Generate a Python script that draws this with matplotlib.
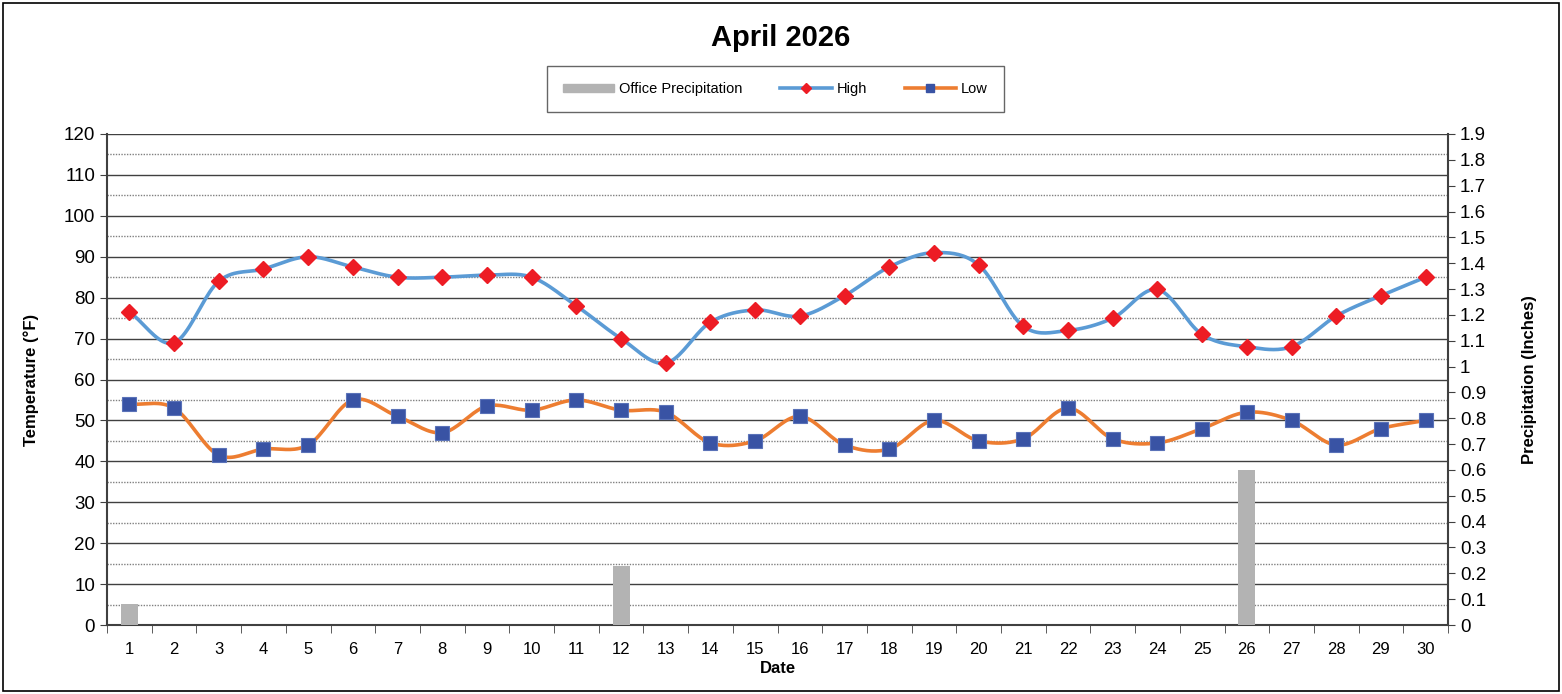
import numpy as np
import matplotlib
matplotlib.use("Agg")
import matplotlib.pyplot as plt
from matplotlib.patches import Rectangle
from matplotlib.lines import Line2D
from matplotlib.ticker import MultipleLocator, FuncFormatter

plt.rcParams["font.family"] = ["Liberation Sans", "DejaVu Sans"]

days = list(range(1, 31))
high = [76.5, 69, 84, 87, 90, 87.5, 85, 85, 85.5, 85,
        78, 70, 64, 74, 77, 75.5, 80.5, 87.5, 91, 88,
        73, 72, 75, 82, 71, 68, 68, 75.5, 80.5, 85]
low = [54, 53, 41.5, 43, 44, 55, 51, 47, 53.5, 52.5,
       55, 52.5, 52, 44.5, 45, 51, 44, 43, 50, 45,
       45.5, 53, 45.5, 44.5, 48, 52, 50, 44, 48, 50]
precip = [0.08, 0, 0, 0, 0, 0, 0, 0, 0, 0,
          0, 0.23, 0, 0, 0, 0, 0, 0, 0, 0,
          0, 0, 0, 0, 0, 0.60, 0, 0, 0, 0]

HIGH_LINE = "#5B9BD5"
HIGH_MARK = "#ED1C24"
LOW_LINE = "#ED7D31"
LOW_MARK = "#3953A4"
BAR = "#B3B3B3"


def smooth(xs, ys, n=20):
    # Catmull-Rom curve through the points, like Excel's smoothed line
    xs = np.asarray(xs, float)
    ys = np.asarray(ys, float)
    px = np.concatenate([[2 * xs[0] - xs[1]], xs, [2 * xs[-1] - xs[-2]]])
    py = np.concatenate([[2 * ys[0] - ys[1]], ys, [2 * ys[-1] - ys[-2]]])
    out_x, out_y = [], []
    t = np.linspace(0, 1, n, endpoint=False)
    for i in range(1, len(px) - 2):
        for p, out in ((px, out_x), (py, out_y)):
            p0, p1, p2, p3 = p[i - 1], p[i], p[i + 1], p[i + 2]
            out.extend(0.5 * ((2 * p1) + (-p0 + p2) * t
                              + (2 * p0 - 5 * p1 + 4 * p2 - p3) * t ** 2
                              + (-p0 + 3 * p1 - 3 * p2 + p3) * t ** 3))
    out_x.append(xs[-1])
    out_y.append(ys[-1])
    return np.array(out_x), np.array(out_y)


fig = plt.figure(figsize=(15.62, 6.94), dpi=100)
fig.patches.append(Rectangle((0.002, 0.004), 0.996, 0.992, transform=fig.transFigure,
                             fill=False, edgecolor="black", linewidth=1.2))

ax = fig.add_axes([107 / 1562, 1 - 625 / 694, (1448 - 107) / 1562, (625 - 134) / 694])
ax2 = ax.twinx()

# temperature axis
ax.set_xlim(0.5, 30.5)
ax.set_ylim(0, 120)
ax.yaxis.set_major_locator(MultipleLocator(10))
ax.yaxis.set_minor_locator(MultipleLocator(5))
ax.grid(True, which="major", axis="y", color="#404040", linewidth=1.0)
ax.grid(True, which="minor", axis="y", color="#808080", linewidth=1.0, linestyle=(0, (1, 1)))
ax.tick_params(axis="y", which="minor", length=0)
ax.tick_params(axis="y", which="major", labelsize=13.5, length=5, color="#404040")
ax.set_xticks(days)
ax.set_xticks(np.arange(0.5, 31, 1), minor=True)
ax.tick_params(axis="x", which="major", length=0, labelsize=12, pad=12)
ax.tick_params(axis="x", which="minor", length=6, color="#404040")
for side in ("top", "right"):
    ax.spines[side].set_visible(False)
for side in ("left", "bottom"):
    ax.spines[side].set_color("#404040")
    ax.spines[side].set_linewidth(1.5)
ax.set_ylabel("Temperature (°F)", fontsize=12, fontweight="bold", labelpad=18)
ax.set_xlabel("Date", fontsize=12, fontweight="bold", labelpad=3)

# precipitation axis
ax2.set_ylim(0, 1.9)
ax2.yaxis.set_major_locator(MultipleLocator(0.1))
ax2.yaxis.set_major_formatter(FuncFormatter(lambda v, p: f"{v:.1f}".rstrip("0").rstrip(".")))
ax2.tick_params(axis="y", labelsize=13.5, length=5, color="#404040")
for side in ("top", "left", "bottom"):
    ax2.spines[side].set_visible(False)
ax2.spines["right"].set_color("#404040")
ax2.spines["right"].set_linewidth(1.5)
ax2.set_ylabel("Precipitation (Inches)", fontsize=12, fontweight="bold", labelpad=26)
ax2.bar(days, precip, width=0.38, color=BAR, zorder=1)

# lines drawn on the top axes, scaled into precipitation units
scale = 1.9 / 120
hx, hy = smooth(days, high)
lx, ly = smooth(days, low)
ax2.plot(hx, hy * scale, color=HIGH_LINE, linewidth=2.6, zorder=3)
ax2.plot(days, np.array(high) * scale, linestyle="none", marker="D", markersize=8,
         color=HIGH_MARK, zorder=4)
ax2.plot(lx, ly * scale, color=LOW_LINE, linewidth=2.6, zorder=3)
ax2.plot(days, np.array(low) * scale, linestyle="none", marker="s", markersize=10.5,
         markerfacecolor=LOW_MARK, markeredgecolor="#5A72B8", markeredgewidth=0.8, zorder=4)

fig.text(0.5, 1 - 38 / 694, "April 2026", ha="center", va="center",
         fontsize=21, fontweight="bold")

handles = [
    Rectangle((0, 0), 1, 1, color=BAR),
    Line2D([], [], color=HIGH_LINE, linewidth=2.6, marker="D", markersize=5, markerfacecolor=HIGH_MARK,
           markeredgecolor=HIGH_MARK),
    Line2D([], [], color=LOW_LINE, linewidth=2.6, marker="s", markersize=6, markerfacecolor=LOW_MARK,
           markeredgecolor=LOW_MARK),
]
leg = fig.legend(handles, ["Office Precipitation", "High", "Low"], loc="center",
                 bbox_to_anchor=(775.5 / 1562, 1 - 89 / 694), ncol=3, fontsize=10.5,
                 frameon=True, fancybox=False, edgecolor="#404040", borderpad=1.1,
                 borderaxespad=0, handlelength=3.5, handletextpad=0.35, columnspacing=2.6,
                 handleheight=0.5)
leg.get_frame().set_linewidth(1.0)

fig.savefig("out.png", dpi=100)
